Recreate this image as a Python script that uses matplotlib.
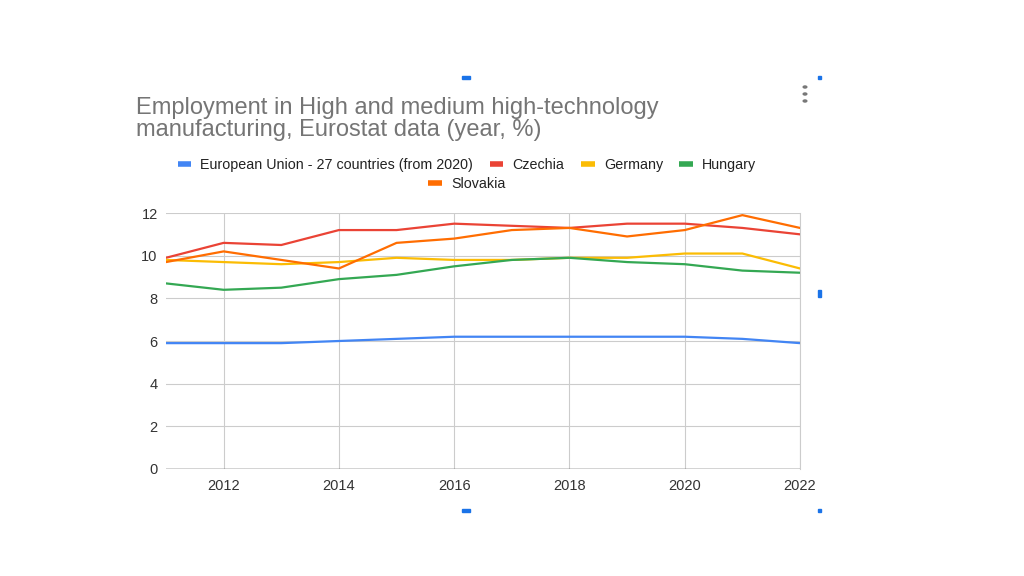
import matplotlib
matplotlib.use('agg')
import matplotlib.pyplot as plt
from matplotlib.lines import Line2D
from matplotlib.patches import Rectangle

plt.rcParams['font.family'] = ['Liberation Sans', 'DejaVu Sans']

# Données
annees = [2011, 2012, 2013, 2014, 2015, 2016, 2017, 2018, 2019, 2020, 2021, 2022]
pays = ['European Union - 27 countries (from 2020)', 'Czechia', 'Germany', 'Hungary', 'Slovakia']
ue = [5.9, 5.9, 5.9, 6.0, 6.1, 6.2, 6.2, 6.2, 6.2, 6.2, 6.1, 5.9]
tchequie = [9.9, 10.6, 10.5, 11.2, 11.2, 11.5, 11.4, 11.3, 11.5, 11.5, 11.3, 11.0]
allemagne = [9.8, 9.7, 9.6, 9.7, 9.9, 9.8, 9.8, 9.9, 9.9, 10.1, 10.1, 9.4]
hongrie = [8.7, 8.4, 8.5, 8.9, 9.1, 9.5, 9.8, 9.9, 9.7, 9.6, 9.3, 9.2]
slovaquie = [9.7, 10.2, 9.8, 9.4, 10.6, 10.8, 11.2, 11.3, 10.9, 11.2, 11.9, 11.3]
series = [ue, tchequie, allemagne, hongrie, slovaquie]
couleurs = ['#4285F4', '#EA4335', '#FBBC04', '#34A853', '#FF6D01']
titre = 'Employment in High and medium high-technology\nmanufacturing, Eurostat data (year, %)'

W, H = 1024, 576
fig = plt.figure(figsize=(W / 100, H / 100), dpi=100)
fig.patch.set_facecolor('white')

# Zone de tracé (coordonnées en pixels)
g, d, h, b = 166, 800, 213, 469
ax = fig.add_axes([g / W, 1 - b / H, (d - g) / W, (b - h) / H])

for s, c, nom in zip(series, couleurs, pays):
    ax.plot(annees, s, color=c, lw=1.6, label=nom, solid_joinstyle='round', zorder=3)

ax.set_xlim(2011, 2022)
ax.set_ylim(0, 12)
ax.set_xticks([2012, 2014, 2016, 2018, 2020, 2022])
ax.set_yticks([0, 2, 4, 6, 8, 10, 12])
ax.grid(True, color='#cccccc', lw=0.8, zorder=0)
ax.axhline(0, color='#333333', lw=1.0, zorder=4)
for sp in ['top', 'left', 'bottom']:
    ax.spines[sp].set_visible(False)
ax.spines['right'].set_color('#cccccc')
ax.spines['right'].set_linewidth(0.8)
ax.tick_params(length=0, labelsize=10.5, colors='#333333')
ax.tick_params(axis='x', pad=7)
ax.tick_params(axis='y', pad=6)
ax.set_facecolor('white')

# Titre
fig.text(136 / W, 1 - 97 / H, titre, fontsize=17, color='#757575', ha='left', va='top', linespacing=1.02)

# Légende sur deux lignes
poignees = [Line2D([0], [0], color=c, lw=4, solid_capstyle='butt') for c in couleurs]
leg1 = fig.legend(poignees[:4], pays[:4], loc='center', bbox_to_anchor=(467 / W, 1 - 165 / H), ncol=4,
                  frameon=False, fontsize=10.3, handlelength=0.95, handletextpad=0.65, columnspacing=1.15)
leg2 = fig.legend(poignees[4:], pays[4:], loc='center', bbox_to_anchor=(467 / W, 1 - 184 / H), ncol=1,
                  frameon=False, fontsize=10.3, handlelength=0.95, handletextpad=0.65)
for leg in (leg1, leg2):
    for t in leg.get_texts():
        t.set_color('#222222')

# Menu (trois points)
for yy in [87, 94, 101]:
    fig.patches.append(plt.Circle((805 / W, 1 - yy / H), 1.8 / W, transform=fig.transFigure,
                                  color='#777777'))

# Poignées de sélection bleues
for (x, y, w, hh) in [(462, 76, 8, 3), (818, 76, 3, 3), (462, 509, 8, 3), (818, 509, 3, 3), (818, 290, 3, 7)]:
    fig.patches.append(Rectangle((x / W, 1 - (y + hh) / H), w / W, hh / H, transform=fig.transFigure,
                                 color='#1a73e8'))

fig.savefig('out.png', dpi=100)
